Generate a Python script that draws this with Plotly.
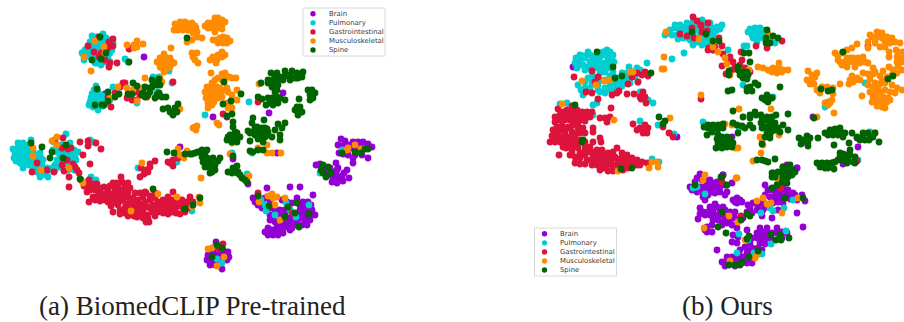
import plotly.graph_objects as go

CATEGORIES = ["Brain", "Pulmonary", "Gastrointestinal", "Musculoskeletal", "Spine"]
COLORS = ["#9400d3", "#00ced1", "#dc143c", "#ff8c00", "#006400"]
CAPTION_A = "(a) BiomedCLIP Pre-trained"
CAPTION_B = "(b) Ours"

# ---------- panel (a): embedding coordinates ----------
a_brain = [(341,139),(345,141),(338,145),(343,146),(348,145),(353,142),(358,142),(363,142),(368,144),(372,147),(367,148),(360,145),(357,150),(352,148),(347,151),(339,153),(343,154),(362,155),(355,155),(368,158),(353,158),(353,163),(348,155),
(316,165),(320,164),(336,163),(338,168),(347,170),(344,173),(330,168),(333,172),(328,175),(333,177),(338,178),(343,181),(332,182),(337,183),(340,180),(322,168),(325,172),
(267,188),(290,187),(300,187),(313,195),(297,198),(253,198),(258,195),(255,202),(260,200),(265,198),(270,200),(258,205),(263,204),(268,205),(262,208),
(282,200),(287,202),(292,203),(270,208),(275,210),(280,210),(285,210),(290,210),(270,215),(275,217),(280,215),(285,215),(270,220),(275,222),(282,223),(287,222),(290,218),(293,223),(287,227),(292,228),(297,225),
(303,202),(308,202),(305,207),(300,210),(312,210),(305,213),(310,215),(315,215),(300,218),(305,220),(310,220),(302,225),(307,225),(297,220),(268,228),(272,230),(270,233),(275,233),(278,235),(283,233),(273,235),(290,230),
(216,242),(213,248),(218,248),(223,250),(228,252),(208,255),(213,255),(218,255),(223,255),(229,257),(207,260),(212,260),(217,262),(222,262),(227,260),(210,265),(215,265),(222,269),
(144,57),(180,147),(248,184),(277,153),(233,159),(269,113),(213,117),(227,117),(283,93),(105,94),
(300,205),(300,214),(302,207),(308,210),(308,217),(303,215),(311,205),(277,227),(280,230),(285,225),(283,220),(295,215),(265,232),(268,235),(283,228),(349,178),(342,176),(336,174),(337,170),(218,260),(213,252),(220,253),(215,258),(208,258)]
a_pulm = [(92,36),(97,37),(103,34),(106,38),(110,40),(95,40),(100,42),(105,44),(110,46),(113,43),(90,42),(92,47),(97,47),(102,49),(107,50),(112,50),(88,46),(85,50),(82,53),(84,56),(90,52),(95,53),(100,55),(105,55),(110,53),(93,58),(98,59),(103,60),(108,58),(97,63),(101,65),(105,62),(84,60),(110,62),(125,59),(128,62),(169,71),
(96,86),(94,90),(98,92),(100,95),(95,95),(91,98),(96,99),(101,99),(106,97),(90,102),(95,103),(100,103),(105,102),(110,100),(89,105),(93,107),(98,108),(103,106),(98,110),(113,87),(153,77),(159,77),(157,92),(160,95),(137,103),(172,83),
(18,143),(23,143),(28,145),(13,149),(18,148),(23,148),(28,150),(33,150),(17,153),(22,153),(27,155),(32,155),(14,158),(19,158),(24,158),(30,160),(36,155),(40,153),(20,163),(25,163),(16,161),(23,168),(29,165),(35,162),(38,167),(42,165),(47,168),(33,170),(38,172),(46,175),(48,177),(40,177),(31,140),(66,134),(54,142),(58,146),(62,150),(66,150),(70,148),(74,150),(78,152),(60,155),(65,155),(70,155),(75,155),(62,160),(68,160),(72,160),(55,165),(60,167),(66,165),(72,165),(50,170),(55,170),(68,170),(74,170),(90,140),(93,142),
(91,177),(96,180),(122,191),(126,194),(138,168),(192,211),(193,203),(177,162),(232,153),(247,174),(252,153),(249,102),(205,115),(261,200),(265,205),(266,211),(275,215),(286,203),(290,210),(296,217),(309,205),(320,173),(342,150),(217,259),(222,263),
(15,153),(20,150),(25,146),(30,153),(35,158),(27,160),(22,160),(18,157),(32,165),(37,172),(43,172),(43,160),(41,158),(52,168),(57,160),(63,145),(70,143),(76,160),(60,145),(53,150),(57,152),(92,94),(97,89),(103,96),(108,103),(93,101),(99,106),(88,52),(92,43),(100,47),(104,40),(108,55),(100,60),(95,63),(102,44),(90,57)]
a_gi = [(88,46),(99,37),(109,42),(113,39),(113,46),(108,48),(94,52),(101,53),(99,57),(105,60),(110,63),(109,67),(117,63),(130,48),(129,49),
(125,83),(128,97),(133,93),(137,100),(132,100),(140,95),(143,90),(138,92),(147,97),(127,98),(120,87),(115,93),(108,97),(111,107),(123,83),(173,82),
(55,140),(63,138),(62,148),(68,149),(71,148),(80,142),(88,141),(88,146),(96,143),(101,149),(83,155),(90,164),(67,160),(62,165),(73,164),(75,167),(37,163),(47,170),(32,172),(54,172),(64,171),(77,170),(79,173),(69,177),(69,187),
(81,180),(85,183),(89,180),(84,186),(88,186),(92,187),(90,190),(95,190),(99,188),(93,184),(97,184),(100,192),(104,187),(108,190),(105,194),(110,194),(115,192),(110,186),(113,183),(118,185),(122,182),(118,190),(122,190),(125,194),(120,195),(115,198),(110,198),(105,200),(100,201),(89,202),(95,200),(93,197),(98,196),(108,202),(113,203),(118,205),(123,200),(128,197),(128,192),(133,198),(138,200),(143,197),(146,193),(150,196),(155,198),(150,200),(145,202),(140,204),(135,207),(130,206),(125,208),(120,210),(113,212),(125,213),(130,212),(135,212),(137,217),(143,210),(148,207),(153,205),(158,202),(163,200),(168,197),(172,200),(177,198),(182,200),(187,202),(190,197),(193,202),(188,208),(183,208),(178,206),(172,206),(167,205),(162,208),(158,212),(152,212),(147,215),(143,218),(138,213),(167,210),(172,212),(180,214),(185,212),(149,222),(146,222),(155,193),(173,192),(145,192),(128,183),(117,183),(121,177),
(141,168),(146,170),(144,174),(148,172),(150,167),(155,161),(150,164),(140,177),(173,160),(170,163),(173,166),(178,158),(168,162),(258,102),(223,114),(258,193),(292,213),(223,244),(219,249),
(87,192),(103,197),(115,188),(125,186),(130,188),(135,193),(140,193),(130,202),(120,201),(140,208),(145,205),(150,208),(155,207),(160,205),(165,202),(170,203),(175,203),(180,203),(185,205),(190,205),(175,209),(168,214),(155,216),(148,218),(135,202),(126,204),(116,200),(111,206),(120,214),(128,216),(134,216),(143,214),(157,208),(163,213),(176,213),(190,200)]
a_musc = [(95,41),(104,47),(84,57),(105,53),(91,71),(127,45),(134,45),(137,41),(143,44),(137,47),(134,48),(171,48),
(164,54),(160,58),(165,60),(170,58),(157,62),(162,63),(167,64),(172,62),(174,63),(160,67),(165,69),(170,67),(164,72),
(118,87),(127,88),(133,90),(145,78),(137,101),(160,78),(162,82),(110,98),(142,88),(52,141),(57,137),(57,145),(33,148),(33,156),(41,170),(69,168),
(175,24),(180,26),(185,22),(190,24),(195,26),(178,30),(183,30),(188,30),(193,30),(174,30),(187,42),(192,53),(193,57),(195,60),(198,63),(197,53),(192,23),(197,37),(202,38),(192,40),(193,33),(197,32),
(215,18),(218,18),(222,20),(225,22),(208,23),(212,23),(215,23),(218,23),(222,25),(208,28),(212,28),(217,28),(222,29),(215,32),(213,40),(217,40),(220,38),(223,37),(227,38),(230,41),(218,43),(223,43),(227,43),(222,52),(218,55),(225,55),(213,57),(210,60),(217,60),(216,63),(222,57),
(211,73),(222,74),(225,73),(218,78),(227,77),(232,78),(236,78),(212,83),(207,87),(210,88),(213,87),(217,87),(205,92),(208,93),(212,93),(215,93),(218,93),(210,98),(213,98),(218,98),(222,97),(227,88),(228,92),(232,95),(237,90),(237,100),(232,100),(227,103),(230,105),(232,108),(228,108),(208,103),(212,105),(208,108),(217,123),(219,125),(195,127),(197,126),(193,128),(196,130),(259,84),(180,109),
(199,197),(200,203),(192,207),(131,211),(158,194),(177,197),(83,183),(142,163),(178,149),(187,151),(180,155),(184,158),(201,178),(230,154),(249,176),(267,145),(267,153),(272,153),(281,153),(258,148),(232,143),
(355,145),(347,150),(348,148),(361,149),(259,202),(268,196),(272,194),(273,198),(277,197),(285,198),(275,205),(280,220),(208,249),(212,248),(224,257),(217,266),
(180,22),(188,24),(184,28),(196,28),(215,26),(210,26),(220,26),(205,26),(165,57),(160,62),(168,68),(162,68),(209,90),(214,90),(220,88),(221,92),(206,98),(214,102),(225,90),(229,77),(222,80),(215,80),(212,97)]
a_spine = [(100,37),(106,53),(92,60),(101,59),(129,62),(187,38),(97,89),(108,92),(108,101),(95,105),(102,105),(104,105),(115,97),(119,94),(128,94),(132,94),(133,83),(137,86),(142,95),(145,97),(145,87),(150,88),(150,92),(143,93),(157,83),(152,80),(153,82),(159,79),(157,85),(157,95),(159,93),(162,97),(166,97),(155,98),(158,96),
(163,109),(168,108),(172,112),(175,108),(178,104),(177,112),(173,115),(170,112),(31,143),(42,147),(52,152),(50,158),(66,145),(63,158),
(271,73),(277,73),(285,71),(292,71),(297,73),(302,77),(290,75),(285,76),(293,78),(298,78),(280,77),(268,80),(273,80),(278,80),(283,80),(268,83),(273,85),(278,85),(272,87),(277,90),(261,83),(258,97),(262,99),(268,98),(272,98),(277,97),(280,98),(270,103),(275,102),(278,103),(273,105),(241,94),(231,101),(223,104),(224,82),(232,114),(227,116),
(308,90),(312,90),(315,93),(310,95),(313,98),(310,100),(299,99),(297,107),(300,107),(295,110),(298,112),(302,112),(298,115),
(253,118),(264,120),(233,122),(285,123),(278,124),(233,127),(252,123),(257,127),(262,128),(265,128),(248,131),(253,132),(258,132),(263,132),(268,132),(275,130),(282,128),(235,132),(232,137),(237,137),(228,137),(260,137),(265,137),(272,137),(230,135),(233,138),(237,142),(227,140),(232,142),(237,133),(240,137),(250,133),(255,135),(262,135),(268,135),(250,141),(250,151),(253,152),(258,150),(263,150),(280,135),(263,142),
(202,150),(198,152),(195,153),(192,154),(205,153),(202,157),(207,158),(203,162),(208,163),(213,158),(218,161),(205,167),(210,168),(215,165),(212,172),(210,173),(206,160),(211,163),
(167,152),(174,153),(185,154),(190,154),(153,189),(185,209),(193,205),(200,198),(80,179),(228,172),(233,168),(237,166),(232,173),(237,173),(240,175),(242,178),(245,180),(235,170),(238,172),(247,182),(233,156),
(342,153),(355,152),(361,153),(365,149),(368,149),(323,165),(328,167),(321,170),(323,173),(326,177),(331,173),(258,196),(269,206),(288,207),(297,203),(285,217),(295,213),(309,214),(299,227),(217,245),(222,248),(212,257),
(275,75),(290,80),(303,72),(296,78),(275,92),(266,105),(285,100),(207,150),(214,166),(200,152),(212,165),(220,158),(215,170),(280,140),(258,139),(255,128),(267,129),(160,85),(152,87),(148,95)]

# ---------- panel (b) ----------
b_brain = [(700,174),(697,178),(702,180),(707,182),(712,183),(717,182),(723,175),(690,187),(695,187),(700,187),(705,187),(710,188),(715,187),(720,187),(725,185),(732,183),(697,192),(702,192),(707,192),(712,192),(717,190),(727,192),(703,197),(705,200),(715,204),(733,200),(737,198),(740,200),(737,203),(735,202),(742,202),
(700,208),(703,212),(708,212),(713,210),(720,210),(725,210),(730,212),(733,215),(705,215),(710,215),(715,215),(720,215),(725,217),(713,220),(718,220),(723,222),(730,220),(735,218),(698,219),(722,225),(727,223),(732,225),(707,227),(707,232),(712,232),(705,230),(737,228),(747,230),(733,235),(738,237),(732,242),(737,243),
(748,205),(753,203),(760,203),(763,202),(770,197),(775,192),(780,192),(785,192),(790,195),(795,195),(802,195),(805,201),(775,197),(780,197),(785,197),(790,199),(797,200),(765,185),(768,190),(797,168),(750,208),(747,212),(757,210),(763,210),(768,207),(773,203),(778,202),(783,203),(762,216),(772,218),(778,210),(797,213),(803,227),(743,218),
(767,228),(777,228),(757,233),(762,233),(767,233),(772,233),(777,233),(782,232),(787,233),(752,238),(757,238),(762,238),(767,238),(772,240),(782,238),(750,243),(760,243),(765,244),
(717,250),(747,248),(752,248),(747,253),(752,253),(743,257),(748,258),(755,252),(758,248),(762,250),(727,257),(732,257),(737,257),(742,258),(722,262),(727,262),(732,262),(737,262),(742,263),(747,263),(725,266),(735,266),(752,263),
(677,137),(573,67),(787,165),(797,168),(723,175),(732,137),(807,143),(813,117),(857,138),(858,147),(843,154),(843,164),(832,163),(857,160),
(695,182),(705,178),(710,180),(692,190),(715,193),(720,192),(725,195),(708,195),(710,207),(717,207),(735,212),(723,207),(712,225),(700,214),(765,195),(770,190),(778,187),(783,187),(788,190),(793,193),(758,207),(752,213),(765,207),(760,235),(770,237),(765,232),(760,228),(750,240),(745,247),(733,260),(739,255),(728,260),(740,250)]
b_pulm = [(675,25),(680,25),(687,23),(693,22),(698,23),(703,22),(707,24),(690,27),(697,28),(702,28),(712,30),(670,30),(675,28),(683,30),(688,32),(693,33),(700,35),(707,35),(713,35),(665,35),(677,35),(683,38),(690,40),(697,42),(703,42),(708,40),(678,39),(693,45),(702,45),(684,53),(672,59),(710,23),(702,20),(722,25),(717,27),(712,28),(707,30),(713,33),(710,38),(705,40),(708,45),(713,50),(728,50),
(750,29),(755,32),(760,28),(763,30),(752,35),(757,35),(762,33),(767,33),(753,38),(758,38),(763,38),(757,42),(747,46),(744,46),(775,43),(770,40),
(580,55),(588,52),(593,57),(610,52),(613,55),(575,63),(580,60),(585,58),(590,62),(595,60),(600,57),(605,55),(608,58),(577,68),(583,65),(588,67),(595,65),(600,63),(605,63),(610,63),(585,70),(598,68),(605,72),(613,72),(622,73),(629,67),(637,68),(647,63),(642,72),(588,78),(593,77),(600,80),(578,85),(585,82),(592,83),(598,85),(581,90),(583,95),(605,88),(610,85),(615,83),(620,82),(625,80),(630,78),(635,77),(638,82),(605,93),(610,90),(617,87),(625,83),(597,103),(593,105),(640,92),(648,100),(653,103),(560,104),(567,103),(640,121),(658,125),(593,115),(703,122),(652,159),(659,162),(674,134),
(865,83),(825,107),(717,133),(739,128),(773,97),(743,85),(870,132),(858,160),(693,188),(697,187),(705,194),(737,253),(739,234),(761,213),(770,208),(773,211),(793,200),(784,208),(786,231),(771,244),(748,240),(762,254),(754,253),(778,177),
(576,58),(583,56),(590,55),(597,54),(603,52),(607,50),(612,58),(580,65),(592,67),(602,68),(608,68),(614,62),(592,72),(600,73),(610,76),(617,78),(622,77),(627,73),(633,72),(612,80),(605,80),(598,90),(590,88),(585,88),(600,92),(615,90),(622,86),(630,83),(628,75),(640,70),(634,74),(680,30),(685,27),(695,30),(704,30),(710,33),(716,31),(720,29),(700,40),(688,38),(672,35),(668,33),(755,28),(748,32),(760,34),(758,32),(764,36),(752,32)]
b_gi = [(693,17),(697,21),(701,26),(708,23),(692,28),(707,31),(702,32),(706,34),(680,34),(687,36),(694,38),(709,48),(713,50),(715,47),(701,25),(719,38),(722,46),(708,50),(713,49),(723,54),(741,52),(730,57),(733,62),(728,60),(742,60),(722,66),(735,67),(740,65),(745,68),(726,74),(750,72),(732,70),(756,46),(782,41),(767,48),
(592,71),(598,77),(574,77),(595,82),(586,92),(592,93),(612,95),(617,93),(619,91),(627,94),(628,84),(632,77),(637,73),(642,75),(645,72),(648,76),(638,82),(634,94),(640,97),(643,92),(645,97),(641,99),(646,103),(598,99),(611,108),(701,99),
(558,109),(567,110),(572,106),(577,110),(582,112),(587,112),(592,112),(560,115),(565,115),(570,115),(575,115),(580,115),(585,117),(590,117),(555,122),(560,120),(565,120),(570,120),(575,120),(580,120),(585,121),(573,125),(562,126),(568,127),(553,130),(558,132),(565,132),(572,132),(578,128),(583,128),(593,128),(593,132),(580,133),(557,137),(562,137),(567,137),(572,137),(550,142),(555,142),(560,142),(565,142),(570,142),(575,142),(580,140),(600,138),(593,142),(601,142),(563,147),(568,147),(573,147),(578,148),(585,146),(590,147),(572,152),(580,153),(559,155),(585,150),(592,152),(597,150),(602,150),(593,157),(598,155),(603,155),(608,153),(617,148),(613,152),(622,153),(627,155),(575,163),(580,164),(585,164),(592,160),(597,160),(602,160),(607,159),(612,159),(617,159),(622,158),(627,159),(632,158),(637,160),(642,162),(647,163),(602,165),(607,165),(612,165),(617,165),(622,165),(627,165),(632,163),(605,168),(613,171),(623,170),(637,165),
(600,118),(605,118),(610,117),(607,122),(633,124),(640,128),(645,125),(637,130),(643,130),(648,128),(643,133),(647,133),(669,133),(673,137),(663,127),(868,46),(722,182),(741,216),(781,188),(857,161),
(555,117),(563,112),(572,112),(578,124),(557,127),(552,136),(560,128),(563,130),(570,128),(575,134),(585,133),(554,137),(566,148),(575,138),(578,143),(585,142),(570,155),(575,157),(585,155),(590,152),(580,158),(587,160),(592,165),(597,165),(610,155),(615,157),(620,160),(625,162),(630,160),(610,162),(635,163),(640,165),(605,160),(600,170),(608,171),(618,170),(628,168)]
b_musc = [(666,32),(699,39),(713,47),(718,52),(725,58),(727,64),(730,75),(749,70),(768,34),(582,81),(596,85),(604,81),(610,80),(630,72),(633,72),(662,69),(664,69),(664,57),(701,95),(670,118),(562,104),(614,120),(652,162),(657,162),(658,167),(649,168),(618,171),
(758,67),(763,68),(768,70),(773,68),(779,63),(779,68),(783,70),(788,70),(772,72),(777,73),(782,72),(739,109),(771,109),(761,153),(753,161),
(808,71),(817,73),(812,75),(807,80),(812,80),(815,77),(817,90),(822,87),(827,87),(833,88),(820,93),(833,94),(840,84),(825,103),(828,102),(832,100),(828,105),(834,113),(817,117),
(835,53),(842,53),(838,60),(847,50),(852,48),(857,44),(842,65),(847,67),(840,62),(853,58),(858,58),(863,57),(850,58),(847,58),(855,63),(860,63),(865,62),(868,63),(855,67),
(877,32),(882,33),(872,37),(877,37),(882,38),(887,37),(892,38),(868,42),(875,43),(880,47),(885,47),(895,42),(900,43),(889,52),(889,57),(898,52),(903,52),(897,57),(902,58),(897,62),(902,62),(868,48),
(873,68),(883,71),(863,73),(868,74),(873,74),(855,80),(850,80),(853,82),(857,78),(882,80),(887,77),(892,75),(897,73),(902,70),(892,85),(897,88),(902,90),(868,85),(873,87),(878,87),(877,92),(890,92),(862,96),(873,97),(878,97),(883,97),(888,98),(872,102),(877,102),(882,102),(887,102),(882,107),
(725,124),(732,125),(760,137),(762,140),(763,145),(735,148),(738,148),(779,135),(767,125),(875,133),(832,133),(736,178),
(705,175),(703,180),(737,178),(763,198),(757,201),(767,204),(771,203),(798,198),(782,213),(729,216),(738,222),(704,228),(745,240),(757,255),(755,258),(730,261),(778,180),
(870,35),(875,40),(880,36),(885,42),(890,43),(896,50),(860,60),(853,62),(848,62),(845,62),(875,72),(880,76),(870,79),(885,83),(880,84),(875,83),(885,90),(880,92),(895,93),(870,92),(875,92),(885,108),(877,106),(890,100),(860,80),(852,76),(849,84),(898,66),(893,70),(889,67),(810,84),(814,84),(830,103),(838,56)]
b_spine = [(692,32),(706,34),(713,41),(719,41),(744,53),(749,53),(750,62),(738,67),(729,71),(729,75),(767,30),(766,38),(773,36),(778,38),(766,43),(770,43),(597,52),(613,67),(622,76),(615,78),(651,73),(659,117),(665,121),(663,124),(575,105),(583,140),(582,142),(621,169),(632,168),
(843,52),(821,89),(828,91),(832,90),(888,79),(893,76),(814,118),
(743,72),(740,75),(745,75),(748,75),(743,78),(747,79),(728,91),(732,90),(747,88),(750,87),(755,83),(758,85),(747,91),(752,91),(780,87),(762,98),(767,95),(770,98),(765,100),(768,102),(772,98),
(733,111),(755,112),(743,117),(750,115),(750,118),(761,115),(767,117),(772,117),(776,115),(788,114),(762,118),(761,123),(770,122),(775,123),
(708,125),(713,125),(718,125),(723,124),(708,128),(713,128),(718,129),(723,128),(733,123),(737,125),(742,126),(745,128),(750,125),(753,128),(707,135),
(762,128),(765,127),(768,127),(773,126),(783,125),(778,128),(788,130),(767,132),(772,131),(780,132),(765,137),(738,133),(762,144),
(717,139),(722,137),(727,137),(718,143),(723,143),(728,143),(733,143),(722,148),(727,147),(732,147),
(799,138),(807,136),(810,138),(803,140),(808,142),(801,144),(808,146),(818,138),
(825,133),(830,130),(835,129),(840,131),(845,133),(828,135),(833,135),(838,135),(843,137),(852,133),(834,145),(849,143),
(863,137),(868,133),(873,137),(860,140),(865,140),(870,138),(879,142),(857,137),
(840,153),(845,155),(850,155),(855,157),(838,160),(843,160),(848,160),(853,162),(835,162),
(817,163),(822,163),(827,163),(832,163),(820,167),(825,168),(834,169),(828,168),
(757,160),(762,160),(768,162),(775,159),(765,161),
(783,167),(788,168),(793,170),(782,172),(787,173),(792,173),(773,173),(775,177),(783,177),(788,177),(722,177),
(721,177),(695,185),(727,185),(722,212),(747,214),(750,216),(741,220),(718,227),(726,233),(749,236),(747,239),(771,235),(780,235),(776,240),(781,240),(789,238),(785,198),(803,198),(758,251),(749,257),(742,262),(729,265),(735,265),(740,265),
(772,173),(772,177),(772,188),(777,185),(783,167),(787,170),(792,170),(795,172),(782,172),(787,175),(792,175),(783,178),(782,182),(787,183),
(712,132),(718,135),(725,140),(716,148),(720,147),(730,138),(835,132),(842,133),(840,128),(863,133),(869,140),(875,133),(845,155),(850,150),(840,157),(847,163),(855,163),(738,70),(747,72),(784,170),(790,165),(778,172),(785,182),(704,127),(770,135),(775,130),(767,129),(770,138),(756,115),(765,120)]

PANEL_A = [a_brain, a_pulm, a_gi, a_musc, a_spine]
PANEL_B = [b_brain, b_pulm, b_gi, b_musc, b_spine]

fig = go.Figure()
for panel, ax in ((PANEL_A, ("x", "y")), (PANEL_B, ("x2", "y2"))):
    for name, color, pts in zip(CATEGORIES, COLORS, panel):
        fig.add_trace(go.Scatter(
            x=[p[0] for p in pts], y=[p[1] for p in pts], mode="markers", name=name,
            marker=dict(size=6.8, color=color, line=dict(width=0)),
            xaxis=ax[0], yaxis=ax[1], showlegend=False, hoverinfo="skip"))

W, H = 904, 322
shapes, notes = [], []
def px(x): return x / W
def py(y): return 1 - y / H

# Legends drawn in paper space: plotly's own legend cannot set rows this tight.
for left, top in ((303, 8), (534.5, 228)):
    shapes.append(dict(type="rect", xref="paper", yref="paper", layer="above",
                       x0=px(left), x1=px(left + 82), y0=py(top), y1=py(top + 48),
                       line=dict(color="#d8d8d8", width=1), fillcolor="rgba(255,255,255,0.85)"))
    for i, (name, color) in enumerate(zip(CATEGORIES, COLORS)):
        cy = top + 5.8 + i * 9.05
        cx = left + 10
        shapes.append(dict(type="circle", xref="paper", yref="paper", layer="above",
                           x0=px(cx - 2.7), x1=px(cx + 2.7), y0=py(cy - 2.7), y1=py(cy + 2.7),
                           line=dict(width=0), fillcolor=color))
        notes.append(dict(text=name, x=px(left + 23.5), y=py(cy), xref="paper", yref="paper",
                          showarrow=False, xanchor="left", yanchor="middle",
                          font=dict(family="DejaVu Sans", size=6.9, color="#3a3a3a")))
for text, cx in ((CAPTION_A, 192), (CAPTION_B, 727.5)):
    notes.append(dict(text=text, x=px(cx), y=py(306), xref="paper", yref="paper",
                      showarrow=False, xanchor="center", yanchor="middle",
                      font=dict(family="Liberation Serif", size=27, color="#222222")))

hidden = dict(visible=False, showgrid=False, zeroline=False, fixedrange=True)
fig.update_layout(
    width=W, height=H, margin=dict(l=0, r=0, t=0, b=0),
    paper_bgcolor="white", plot_bgcolor="white", showlegend=False,
    xaxis=dict(domain=[0, 0.5], range=[0, 452], **hidden),
    yaxis=dict(domain=[0, 1], range=[322, 0], **hidden),
    xaxis2=dict(domain=[0.5, 1], range=[452, 904], **hidden),
    yaxis2=dict(domain=[0, 1], range=[322, 0], anchor="x2", **hidden),
    shapes=shapes, annotations=notes)
fig.write_html("out.html", config=dict(displayModeBar=False),
               post_script="document.body.style.margin='0';document.documentElement.style.overflow='hidden';")
